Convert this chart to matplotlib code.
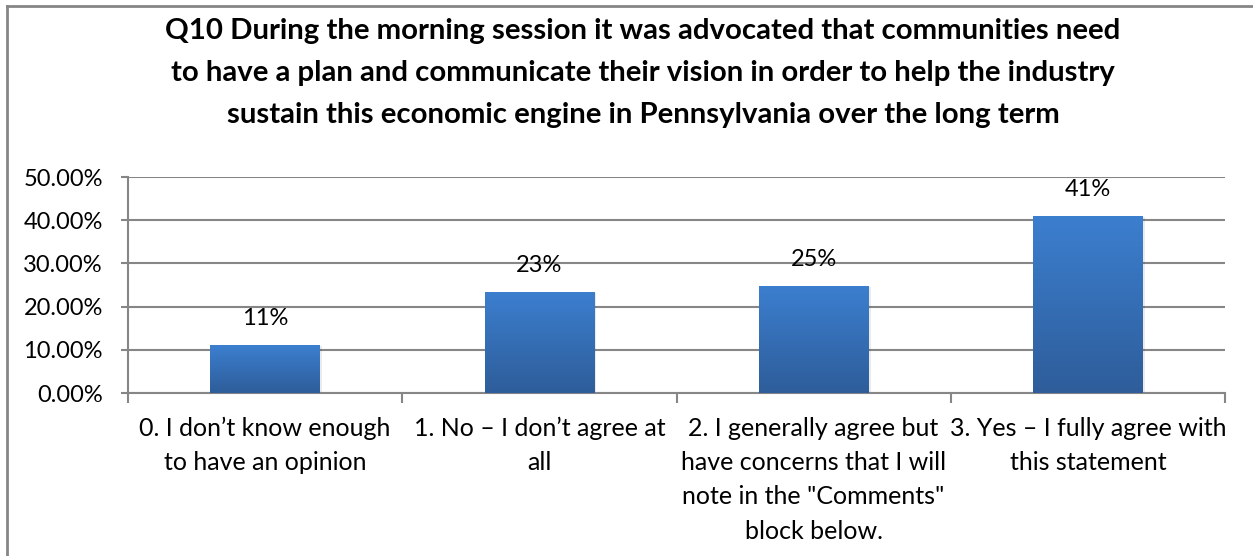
import matplotlib
import matplotlib.pyplot as plt
import numpy as np
from matplotlib.lines import Line2D
from matplotlib.ticker import FuncFormatter

matplotlib.use('Agg')

plt.rcParams['font.family'] = ['Lato', 'DejaVu Sans']

title = ('Q10 During the morning session it was advocated that communities need\n'
         'to have a plan and communicate their vision in order to help the industry\n'
         'sustain this economic engine in Pennsylvania over the long term')
categories = [
    '0. I don\u2019t know enough\nto have an opinion',
    '1. No \u2013 I don\u2019t agree at\nall',
    '2. I generally agree but\nhave concerns that I will\nnote in the "Comments"\nblock below.',
    '3. Yes \u2013 I fully agree with\nthis statement',
]
shares = [0.111, 0.234, 0.248, 0.410]
y_ticks = [0.0, 0.1, 0.2, 0.3, 0.4, 0.5]

W, H = 1253, 556
fig = plt.figure(figsize=(W / 100, H / 100), dpi=100)
ax = fig.add_axes([128 / W, 1 - 393 / H, (1225 - 128) / W, (393 - 177) / H])

grid_col = '#868686'
x = np.arange(len(categories))
bars = ax.bar(x, shares, width=0.4, color='#3a7ccb', zorder=3)

# vertical gradient inside each bar, light on top, darker at the base
grad = np.linspace(0, 1, 256).reshape(-1, 1)
cmap = matplotlib.colors.LinearSegmentedColormap.from_list('bar', ['#2e5d9a', '#3c7fcf'])
for b in bars:
    x0, w, h = b.get_x(), b.get_width(), b.get_height()
    # soft drop shadow
    ax.bar(x0 + w / 2 + 0.008, h, width=w, bottom=-0.003, color='#000000',
           alpha=0.08, zorder=2)
    im = ax.imshow(grad, extent=(x0, x0 + w, 0, h), origin='lower', cmap=cmap,
                   aspect='auto', zorder=4)
    im.set_clip_path(b)
    ax.annotate(f'{h * 100:.0f}%', (x0 + w / 2, h), xytext=(0, 19),
                textcoords='offset points', ha='center', va='center',
                fontsize=17, color='black', zorder=5)

ax.set_xlim(-0.5, len(categories) - 0.5)
ax.set_ylim(0, 0.5)
ax.set_yticks(y_ticks)
ax.yaxis.set_major_formatter(FuncFormatter(lambda v, _: f'{v * 100:.2f}%'))
ax.yaxis.grid(True, color=grid_col, linewidth=1.5, zorder=0)
ax.tick_params(axis='y', length=5, width=1.5, color=grid_col, labelsize=17,
               pad=13, labelcolor='black')

# category ticks sit on the boundaries between groups
ax.set_xticks(np.arange(len(categories) + 1) - 0.5)
ax.set_xticklabels([])
ax.set_xticks(x, minor=True)
ax.set_xticklabels(categories, minor=True, fontsize=18, linespacing=1.6, va='top')
ax.tick_params(axis='x', which='major', length=7, width=1.5, color=grid_col)
ax.tick_params(axis='x', which='minor', length=0, pad=17)

for side in ['top', 'right']:
    ax.spines[side].set_visible(False)
ax.spines['left'].set_color(grid_col)
ax.spines['left'].set_linewidth(1.5)
ax.spines['bottom'].set_color(grid_col)
ax.spines['bottom'].set_linewidth(1.5)
ax.set_axisbelow(True)

fig.text(643 / W, 1 - 73 / H, title, ha='center', va='center', fontsize=21.2,
         fontweight='bold', linespacing=1.75)

# chart border
fig.add_artist(Line2D([7 / W, 7 / W], [0, 1 - 6 / H], color=grid_col, lw=2,
                      transform=fig.transFigure))
fig.add_artist(Line2D([7 / W, 1], [1 - 6 / H, 1 - 6 / H], color=grid_col, lw=2,
                      transform=fig.transFigure))

fig.savefig('out.png', dpi=100, facecolor='white')
